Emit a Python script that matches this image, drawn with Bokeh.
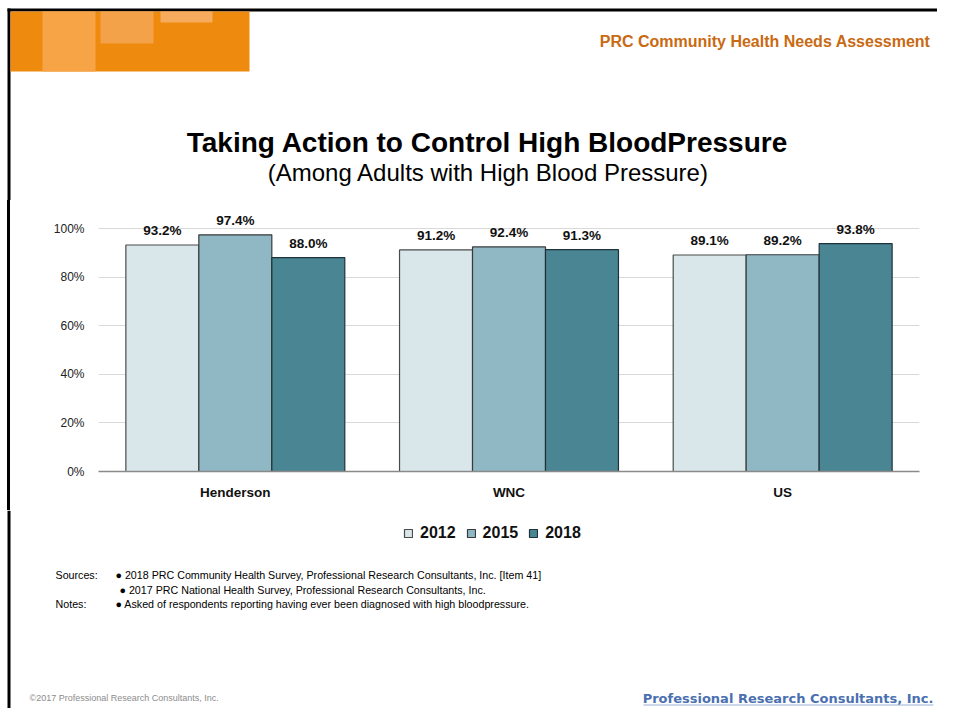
from bokeh.plotting import figure
from bokeh.layouts import column, row, Spacer
from bokeh.models import (Range1d, FactorRange, FixedTicker, PrintfTickFormatter,
                          Label, BoxAnnotation, ColumnDataSource, Legend)
from bokeh.transform import dodge
from bokeh.core.properties import value
from bokeh.embed import file_html
from bokeh.resources import INLINE

# ---------------- data ----------------
categories = ["Henderson", "WNC", "US"]
years = ["2012", "2015", "2018"]
v2012 = [93.2, 91.2, 89.1]
v2015 = [97.4, 92.4, 89.2]
v2018 = [88.0, 91.3, 93.8]
y_ticks = [0, 20, 40, 60, 80, 100]

title_text = "Taking Action to Control High BloodPressure"
subtitle_text = "(Among Adults with High Blood Pressure)"
header_text = "PRC Community Health Needs Assessment"
sources_lines = [
    "\u25cf 2018 PRC Community Health Survey, Professional Research Consultants, Inc. [Item 41]",
    "\u25cf  2017 PRC National Health Survey, Professional Research Consultants, Inc.",
]
notes_line = "\u25cf Asked of respondents reporting having ever been diagnosed with high bloodpressure."
footer_left = "\u00a92017 Professional Research Consultants, Inc."
footer_right = "Professional Research Consultants, Inc."

# ---------------- layout constants (canvas px) ----------------
W = 937
TOP_H = 200          # rows 0..200
MID_H = 310          # rows 200..510
BOT_H = 198          # rows 510..708
FONT = "Liberation Sans"
PX_PER_PCT = 2.43
FRAME_L, FRAME_R, FRAME_B = 98, 919, 471  # main plot frame, canvas px
LINE_X0, LINE_X1 = 7, 10                   # slide's left border line


def blank(width, height, fill="white"):
    f = figure(width=width, height=height, output_backend="svg", toolbar_location=None,
               x_range=Range1d(0, width), y_range=Range1d(0, height),
               x_axis_location=None, y_axis_location=None,
               min_border=0, min_border_left=0, min_border_right=0,
               min_border_top=0, min_border_bottom=0)
    f.grid.visible = False
    f.outline_line_color = None
    f.background_fill_color = fill
    f.border_fill_color = fill
    return f


def add_box(f, y0, l, t, r, b, color):
    h = f.height
    f.add_layout(BoxAnnotation(left=l, right=r, top=h - (t - y0), bottom=h - (b - y0),
                               fill_color=color, fill_alpha=1, line_color=None))


def add_label(f, y0, text, x, y, size, style="normal", color="#000000", align="left",
              font=FONT):
    # y is the vertical centre of the text line (canvas px)
    f.add_layout(Label(x=x, y=f.height - (y - y0), text=text, text_font=font,
                       text_font_size=size, text_font_style=style, text_color=color,
                       text_align=align, text_baseline="middle"))


# ---------------- top: banner, header, title ----------------
top = blank(W, TOP_H)
add_box(top, 0, LINE_X0, 8, W, 11, "#000000")
add_box(top, 0, LINE_X0, 8, LINE_X1, TOP_H, "#000000")
add_box(top, 0, LINE_X1, 11, 249, 71, "#EE8A0E")
add_box(top, 0, 42, 11, 95, 71, "#F6A446")
add_box(top, 0, 100, 11, 153, 43, "#F4A24A")
add_box(top, 0, 160, 11, 212, 22, "#F6AC5C")
add_label(top, 0, header_text, 930, 41, "16px", "bold", "#C96A12", "right")
add_label(top, 0, title_text, 487, 142, "28px", "bold", "#000000", "center")
add_label(top, 0, subtitle_text, 488, 172, "24px", "normal", "#000000", "center")

# ---------------- middle: the chart ----------------
spacer = Spacer(width=LINE_X0, height=MID_H)
strip = Spacer(width=LINE_X1 - LINE_X0, height=MID_H,
               styles={"background-color": "#000000"})

frame_bot_local = FRAME_B - TOP_H
y_end = frame_bot_local / PX_PER_PCT

src = ColumnDataSource(dict(
    cat=categories,
    y2012=v2012, y2015=v2015, y2018=v2018,
    l2012=[f"{v:.1f}%" for v in v2012],
    l2015=[f"{v:.1f}%" for v in v2015],
    l2018=[f"{v:.1f}%" for v in v2018],
))

p = figure(width=W - LINE_X1, height=MID_H, output_backend="svg", toolbar_location=None,
           x_range=FactorRange(factors=categories, range_padding=0),
           y_range=Range1d(0, y_end),
           min_border_left=FRAME_L - LINE_X1, min_border_right=W - FRAME_R,
           min_border_top=0, min_border_bottom=MID_H - frame_bot_local)
p.outline_line_color = None
p.background_fill_color = "white"
p.border_fill_color = "white"

colors = ["#D9E7EA", "#8FB7C4", "#4A8593"]
outlines = ["#4a4a4a", "#3a3a3a", "#1e3338"]
bw = 0.8 / 3
offsets = [-bw, 0, bw]
for yr, col, lc, off in zip(years, colors, outlines, offsets):
    p.vbar(x=dodge("cat", off, range=p.x_range), top="y" + yr, width=bw, source=src,
           fill_color=col, line_color=lc, line_width=1.2)
    p.text(x=dodge("cat", off, range=p.x_range), y="y" + yr, text="l" + yr, source=src,
           text_font=value(FONT), text_font_style="bold", text_font_size="13.5px",
           text_align="center", text_baseline="middle", y_offset=-14.5,
           text_color="#111111")

p.yaxis.ticker = FixedTicker(ticks=y_ticks)
p.yaxis.formatter = PrintfTickFormatter(format="%d%%")
p.yaxis.axis_line_color = None
p.yaxis.major_tick_line_color = None
p.yaxis.minor_tick_line_color = None
p.yaxis.major_label_standoff = 8
p.yaxis.major_label_text_font = FONT
p.yaxis.major_label_text_font_size = "12px"
p.yaxis.major_label_text_color = "#222222"

p.xaxis.axis_line_color = "#8a8a8a"
p.xaxis.axis_line_width = 1.5
p.xaxis.major_tick_line_color = None
p.xaxis.major_label_standoff = 7
p.xaxis.major_label_text_font = FONT
p.xaxis.major_label_text_font_style = "bold"
p.xaxis.major_label_text_font_size = "13.5px"
p.xaxis.major_label_text_color = "#111111"

p.xgrid.grid_line_color = None
p.ygrid.ticker = FixedTicker(ticks=y_ticks)
p.ygrid.grid_line_color = "#D9D9D9"
p.ygrid.grid_line_width = 1

# ---------------- bottom: legend, sources, footer ----------------
bot = blank(W, BOT_H)
Y0 = TOP_H + MID_H
add_box(bot, Y0, LINE_X0, Y0, LINE_X1, Y0 + BOT_H, "#000000")

# legend swatches: hidden copies of the series (legend draws them, plot does not)
items = []
for yr, col, lc in zip(years, colors, outlines):
    ls = ColumnDataSource(dict(x=list(range(len(categories))), top=src.data["y" + yr]))
    r = bot.vbar(x="x", top="top", width=0.5, source=ls, fill_color=col, line_color=lc,
                 line_width=1.2, visible=False)
    items.append((yr, [r]))
leg = Legend(items=items, orientation="horizontal",
             location=(403, BOT_H - (542 - Y0)),
             glyph_width=10, glyph_height=10, label_height=10,
             label_standoff=7, spacing=10, padding=0, margin=0,
             border_line_color=None, background_fill_alpha=0,
             label_text_font=FONT, label_text_font_style="bold",
             label_text_font_size="16px", label_text_color="#111111")
bot.add_layout(leg)

add_label(bot, Y0, "Sources:", 55, 574.5, "10.7px")
add_label(bot, Y0, sources_lines[0], 115, 574.5, "10.7px")
add_label(bot, Y0, sources_lines[1], 119, 589, "10.7px")
add_label(bot, Y0, "Notes:", 55, 603.5, "10.7px")
add_label(bot, Y0, notes_line, 115, 603.5, "10.7px")
add_label(bot, Y0, footer_left, 29, 697, "9px", color="#8C8C8C")
add_label(bot, Y0, footer_right, 933, 697.5, "13px", "bold", "#4A70B0", "right",
          font="DejaVu Sans")
add_box(bot, Y0, 643, 704, 933, 705, "#9AAFD3")

layout = column(top, row(spacer, strip, p, spacing=0), bot, spacing=0)
open("out.html", "w").write(file_html(layout, INLINE))
